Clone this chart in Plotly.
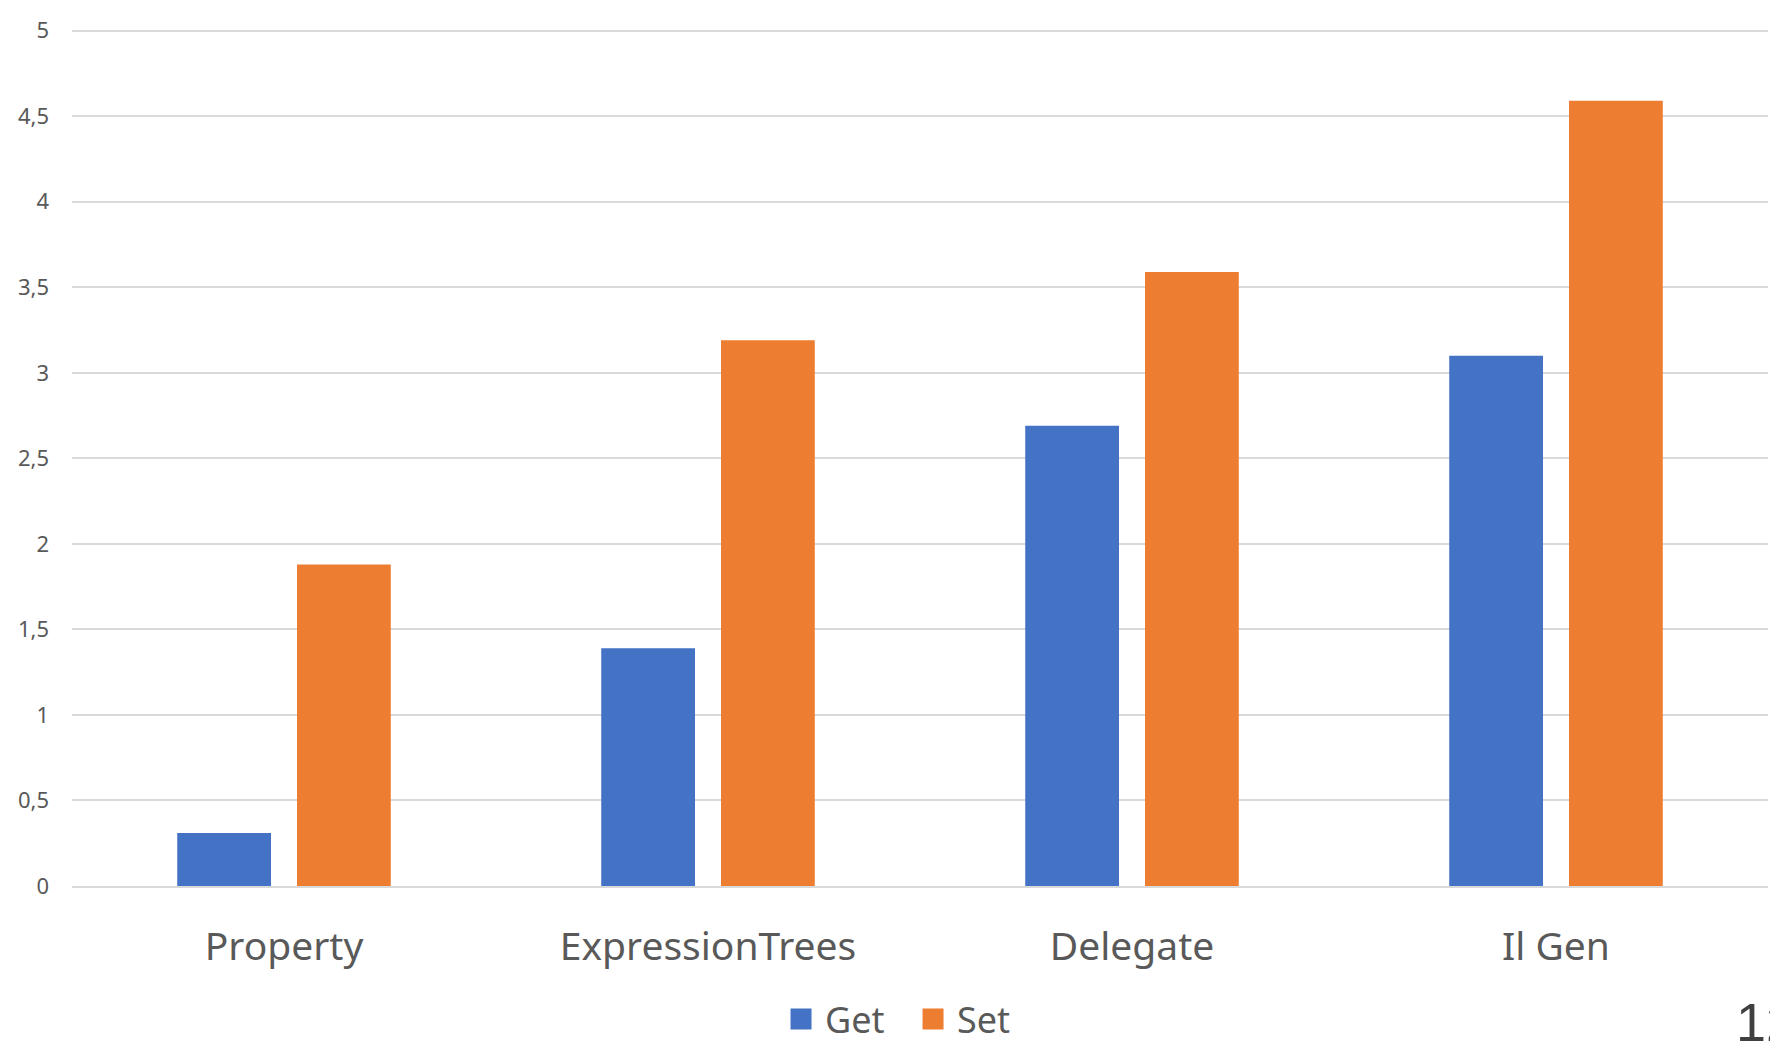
import plotly.graph_objects as go

categories = ["Property", "ExpressionTrees", "Delegate", "Il Gen"]
get_values = [0.31, 1.39, 2.69, 3.10]
set_values = [1.88, 3.19, 3.59, 4.59]
series_names = ["Get", "Set"]
series_colors = ["#4472C4", "#ED7D31"]
y_tickvals = [0, 0.5, 1, 1.5, 2, 2.5, 3, 3.5, 4, 4.5, 5]
y_ticktext = ["0", "0,5", "1", "1,5", "2", "2,5", "3", "3,5", "4", "4,5", "5"]
slide_number = "12"

FONT = "Noto Sans"
GRAY = "#595959"

fig = go.Figure()
for name, vals, col in zip(series_names, [get_values, set_values], series_colors):
    fig.add_trace(go.Bar(name=name, x=categories, y=vals, showlegend=False,
                         marker=dict(color=col, line=dict(width=0))))
# legend entries (square swatches)
for name, col in zip(series_names, series_colors):
    fig.add_trace(go.Scatter(name=name, x=[None], y=[None], mode="markers",
                             marker=dict(symbol="square", size=16, color=col,
                                         line=dict(width=5, color=col)),
                             showlegend=True, hoverinfo="skip"))

fig.update_layout(
    width=1770, height=1044,
    margin=dict(l=72, r=2, t=29, b=158, autoexpand=False),
    paper_bgcolor="white", plot_bgcolor="white",
    barmode="group", bargap=0.435, bargroupgap=0.217,
    font=dict(family=FONT, color=GRAY),
    showlegend=True,
    legend=dict(orientation="h", x=0.4157, xanchor="left", y=-0.1552, yanchor="middle",
                font=dict(size=36, color=GRAY, family=FONT),
                itemsizing="trace", traceorder="normal",
                entrywidth=79, entrywidthmode="pixels", itemwidth=38,
                borderwidth=0, bgcolor="rgba(0,0,0,0)"),
    xaxis=dict(showgrid=False, showline=True, linecolor="#D9D9D9", linewidth=1.5,
               ticks="", tickfont=dict(size=39, color=GRAY, family=FONT),
               ticklabelstandoff=25, zeroline=False),
    yaxis=dict(range=[0, 5.01], tickvals=y_tickvals, ticktext=y_ticktext,
               showgrid=True, gridcolor="#D9D9D9", gridwidth=1.5,
               showline=False, zeroline=False, ticks="",
               tickfont=dict(size=22, color=GRAY, family=FONT),
               ticklabelstandoff=22),
    annotations=[dict(text=slide_number, xref="paper", yref="paper", x=0.980, y=-0.1216,
                      xanchor="left", yanchor="top", showarrow=False,
                      font=dict(size=54, color="#404040", family="Liberation Sans"))],
)

fig.write_html("out.html")
